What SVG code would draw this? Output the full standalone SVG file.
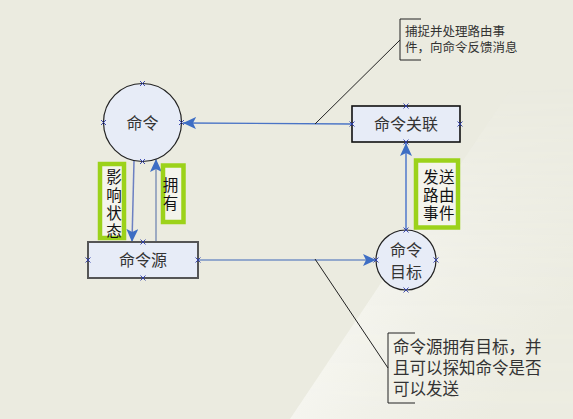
<svg xmlns="http://www.w3.org/2000/svg" width="573" height="419" viewBox="0 0 573 419">
<style>
.bg{fill:#EBEBE0}
.node{fill:#E7ECF7;stroke:#222;stroke-width:1.2}
.box{fill:#E7ECF7;stroke:#333;stroke-width:1.6}
.lbl{font-family:"Liberation Sans","Noto Sans CJK SC",sans-serif;font-size:16px;fill:#333;text-anchor:middle;dominant-baseline:central}
.glbl{font-family:"Liberation Sans","Noto Sans CJK SC",sans-serif;font-size:15.5px;fill:#111;text-anchor:middle;dominant-baseline:central}
.vlbl{font-family:"Noto Sans CJK SC",sans-serif;font-size:15.5px;fill:#111;text-anchor:middle;writing-mode:vertical-rl;letter-spacing:2.5px}
.gbox{fill:#F4F4EC;stroke:#9CD21A;stroke-width:4.5}
.note{font-family:"Liberation Sans","Noto Sans CJK SC",sans-serif;fill:#333}
.callout{fill:none;stroke:#222;stroke-width:1}
.c1{fill:none;stroke:#4A74C6;stroke-width:1.3}
.c2{fill:none;stroke:#93A8CC;stroke-width:2}
.cp{fill:none;stroke:#2A3AA8;stroke-width:0.9}
</style>
<defs>
<marker id="arr" markerUnits="userSpaceOnUse" markerWidth="14" markerHeight="12" refX="13" refY="6" orient="auto">
<path d="M0,0 L13,6 L0,12 L3,6 Z" fill="#3E6EC4"/>
</marker>
<path id="x" d="M-2.5,-2.5 L2.5,2.5 M-2.5,2.5 L2.5,-2.5"/>
<linearGradient id="band" gradientUnits="userSpaceOnUse" x1="336" y1="350" x2="476" y2="444">
<stop offset="0" stop-color="#F5F5EF"/>
<stop offset="0.35" stop-color="#F1F1E9"/>
<stop offset="1" stop-color="#ECECE1"/>
</linearGradient>
<linearGradient id="fadeUp" gradientUnits="userSpaceOnUse" x1="0" y1="419" x2="0" y2="80">
<stop offset="0" stop-color="#fff" stop-opacity="1"/>
<stop offset="0.45" stop-color="#fff" stop-opacity="0.75"/>
<stop offset="1" stop-color="#fff" stop-opacity="0"/>
</linearGradient>
<mask id="m"><rect x="0" y="0" width="573" height="419" fill="url(#fadeUp)"/></mask>
</defs>
<rect class="bg" x="0" y="0" width="573" height="419"/>
<polygon points="290,419 573,-4 573,419" fill="url(#band)" mask="url(#m)"/>

<g id="connectors">
<line class="c1" x1="352" y1="124" x2="183" y2="123" marker-end="url(#arr)"/>
<line class="c1" x1="406" y1="230" x2="406" y2="143" marker-end="url(#arr)" style="stroke:#6A8CD0;stroke-width:1.8"/>
<line class="c2" x1="198" y1="260" x2="376" y2="260" marker-end="url(#arr)"/>
<line class="c1" x1="134" y1="161" x2="132" y2="242" marker-end="url(#arr)" style="stroke:#6C80C2;stroke-width:1.5"/>
<line class="c2" x1="156" y1="242" x2="156" y2="159" marker-end="url(#arr)" style="stroke:#9CAAC2"/>
</g>

<g id="label-yingxiang">
<rect class="gbox" x="100" y="164" width="24" height="74"/>
<text class="vlbl" x="114" y="205">影响状态</text>
</g>

<g id="label-yongyou">
<rect class="gbox" x="163" y="165.5" width="20.5" height="56.5"/>
<text class="vlbl" x="170.5" y="195">拥有</text>
</g>

<g id="label-fasong">
<rect class="gbox" x="416" y="160.5" width="42" height="67"/>
<text class="glbl" letter-spacing="0.5"><tspan x="439" y="177">发送</tspan><tspan x="439" y="195">路由</tspan><tspan x="439" y="213">事件</tspan></text>
</g>

<g id="node-mingling">
<circle class="node" cx="142.5" cy="122.5" r="39"/>
<text class="lbl" x="142.5" y="123">命令</text>
<g class="cp">
<use href="#x" x="142.5" y="83.5"/><use href="#x" x="103.5" y="122.5"/><use href="#x" x="181.5" y="122.5"/><use href="#x" x="142.5" y="161.5"/>
</g>
</g>

<g id="node-minglingyuan">
<rect class="box" x="88" y="242" width="110" height="36" style="stroke:#555;stroke-width:2"/>
<text class="lbl" x="143" y="260" font-size="16.5">命令源</text>
<g class="cp">
<use href="#x" x="143" y="242"/><use href="#x" x="143" y="278"/><use href="#x" x="88" y="260"/><use href="#x" x="198" y="260"/>
</g>
</g>

<g id="node-guanlian">
<rect class="box" x="352" y="106" width="108" height="36" style="stroke:#111"/>
<text class="lbl" x="406" y="124" font-size="16.5">命令关联</text>
<g class="cp">
<use href="#x" x="406" y="106"/><use href="#x" x="406" y="142"/><use href="#x" x="352" y="124"/><use href="#x" x="460" y="124"/>
</g>
</g>

<g id="node-mubiao">
<circle class="node" cx="406" cy="260" r="30"/>
<text class="lbl"><tspan x="406" y="250">命令</tspan><tspan x="406" y="272">目标</tspan></text>
<g class="cp">
<use href="#x" x="406" y="230"/><use href="#x" x="406" y="290"/><use href="#x" x="376" y="260"/><use href="#x" x="436" y="260"/>
</g>
</g>

<g id="note-1">
<path class="callout" d="M421,19 H400 V60 H421"/>
<line class="callout" x1="400" y1="40" x2="315" y2="124"/>
<text class="note" font-size="12.5"><tspan x="405" y="36">捕捉并处理路由事</tspan><tspan x="405" y="52">件，向命令反馈消息</tspan></text>
</g>

<g id="note-2">
<path class="callout" d="M415,333 H388 V403 H415"/>
<line class="callout" x1="388" y1="368" x2="315" y2="259"/>
<text class="note" font-size="16.5"><tspan x="393" y="353">命令源拥有目标，并</tspan><tspan x="393" y="374">且可以探知命令是否</tspan><tspan x="393" y="395">可以发送</tspan></text>
</g>
</svg>
